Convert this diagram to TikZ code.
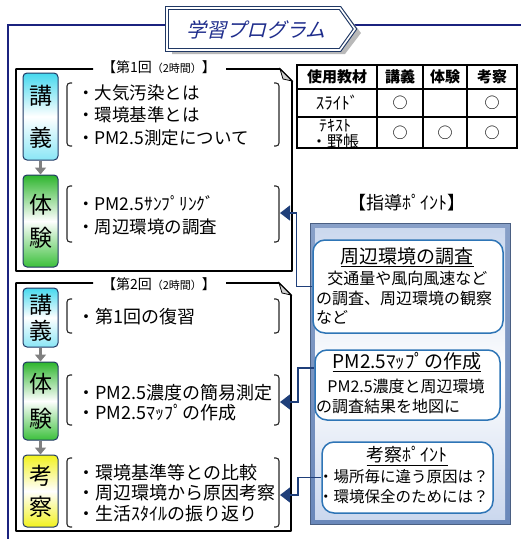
\documentclass[tikz,border=0pt]{standalone}
\usepackage{fontspec}
\setmainfont{Noto Sans CJK JP}
\newfontfamily\jpit[FakeSlant=0.25]{Noto Sans CJK JP}
\usetikzlibrary{arrows.meta,calc}
\definecolor{navy}{HTML}{1B237F}
\definecolor{ttlc}{HTML}{1F2D8C}
\definecolor{nodeb}{HTML}{203864}
\definecolor{cyanc}{HTML}{45D8EE}
\definecolor{cyanb}{HTML}{8AE6F6}
\definecolor{greenc}{HTML}{2DB52D}
\definecolor{greenb}{HTML}{3CC03C}
\definecolor{yelc}{HTML}{F2F21E}
\definecolor{ptrc}{HTML}{1F3F7A}
\definecolor{pboxc}{HTML}{2E75B6}
\definecolor{panout}{HTML}{6A88BA}
\definecolor{panin}{HTML}{CBD8EE}
\begin{document}
\begin{tikzpicture}[x=1pt,y=-1pt,
  sess/.style={draw=black, line width=1.6pt, line join=round},
  brk/.style={draw=black!85, line width=1.1pt, rounded corners=3pt},
  kou/.style={draw=nodeb, line width=1pt, rounded corners=4pt, minimum width=35pt, inner sep=0pt, align=center, font=\fontsize{23}{#1}\selectfont},
  cyanfill/.style={top color=cyanc, bottom color=cyanb, middle color=white},
  greenfill/.style={top color=greenc, bottom color=greenb, middle color=white},
  yelfill/.style={top color=yelc, bottom color=yelc, middle color=white},
  garrow/.style={draw=gray, line width=3.5pt, -{Triangle[width=11pt,length=7pt]}},
  slab/.style={inner sep=0pt, font=\fontsize{14}{14}\selectfont},
  txtA/.style={anchor=west, inner sep=0pt, align=left, font=\fontsize{17.5}{22.5}\selectfont},
  txtB/.style={anchor=west, inner sep=0pt, align=left, font=\fontsize{18}{20.5}\selectfont},
  th/.style={inner sep=0pt, font=\fontsize{15}{15}\selectfont\bfseries},
  td/.style={inner sep=0pt, align=center, font=\fontsize{15}{15}\selectfont},
  pbox/.style={draw=pboxc, line width=1.5pt, rounded corners=12pt, fill=white},
  ptitle/.style={inner sep=0pt, font=\fontsize{19}{19}\selectfont},
  pbody/.style={anchor=west, inner sep=0pt, align=left, font=\fontsize{16}{19.5}\selectfont},
  ptr/.style={draw=ptrc, line width=1.5pt, -{Triangle[width=15pt,length=10pt]}}]
\useasboundingbox (0,0) rectangle (521,539);

% outer frame
\draw[navy, line width=1.8pt] (8,539) -- (8,25) -- (521,25);

% title banner
\fill[gray!55] (172,12) -- (345,12) -- (361,33) -- (345,54) -- (172,54) -- cycle;
\filldraw[fill=white, draw=nodeb, double=white, double distance=1.6pt, line width=1.1pt, line join=miter]
  (167,8) -- (340,8) -- (355,29) -- (340,50) -- (167,50) -- cycle;
\node[inner sep=0pt, text=ttlc, font=\jpit\fontsize{20}{20}\selectfont] (ttl) at (256,30) {学習プログラム};

% ---------- session 1
\draw[sess] (93,69) -- (16,69) -- (16,271) -- (292,271) -- (292,81) -- (280,69) -- (226,69);
\filldraw[draw=black, line width=0.8pt, fill=gray!35] (280,69) -- (283,79) -- (292,81) -- cycle;
\node[slab] (s1) at (159,67) {【第1回{\fontsize{11}{11}\selectfont（2時間）}】};

\node[kou=42, minimum height=87pt, cyanfill] (k1) at (40.5,116.5) {講\\義};
\node[kou=33, minimum height=92pt, greenfill] (e1) at (40.5,221) {体\\験};
\draw[garrow] (k1.south) -- (e1.north);

\node[txtA] (t1) at (77,115) {・大気汚染とは\\・環境基準とは\\・PM2.5測定について};
\draw[brk] (72,83) -- (67,83) -- (67,146) -- (72,146);
\draw[brk] (274,83) -- (279,83) -- (279,146) -- (274,146);
\node[txtA] (t2) at (77,215.5) {・PM2.5ｻﾝﾌﾟﾘﾝｸﾞ\\・周辺環境の調査};
\draw[brk] (72,186) -- (67,186) -- (67,242) -- (72,242);
\draw[brk] (274,186) -- (279,186) -- (279,242) -- (274,242);
\coordinate (tip1) at (280,213);

% ---------- session 2
\draw[sess] (93,283) -- (16,283) -- (16,531) -- (291,531) -- (291,295) -- (279,283) -- (226,283);
\filldraw[draw=black, line width=0.8pt, fill=gray!35] (279,283) -- (282,293) -- (291,295) -- cycle;
\node[slab] (s2) at (159,284) {【第2回{\fontsize{11}{11}\selectfont（2時間）}】};

\node[kou=26, minimum height=59pt, cyanfill] (k2) at (40.5,317.5) {講\\義};
\node[kou=35, minimum height=78pt, greenfill] (e2) at (40.5,401) {体\\験};
\node[kou=31, minimum height=72pt, yelfill] (c2) at (40.5,491) {考\\察};
\draw[garrow] (k2.south) -- (e2.north);
\draw[garrow] (e2.south) -- (c2.north);

\node[txtB] (t3) at (77,317) {・第1回の復習};
\draw[brk] (72,299) -- (67,299) -- (67,333) -- (72,333);
\draw[brk] (274,299) -- (279,299) -- (279,333) -- (274,333);
\node[txtB] (t4) at (77,402.5) {・PM2.5濃度の簡易測定\\・PM2.5ﾏｯﾌﾟの作成};
\draw[brk] (72,375) -- (67,375) -- (67,425) -- (72,425);
\draw[brk] (274,375) -- (279,375) -- (279,425) -- (274,425);
\node[txtB] (t5) at (77,493) {・環境基準等との比較\\・周辺環境から原因考察\\・生活ｽﾀｲﾙの振り返り};
\draw[brk] (72,458) -- (67,458) -- (67,527) -- (72,527);
\draw[brk] (274,458) -- (279,458) -- (279,527) -- (274,527);
\coordinate (tip2) at (280,402);
\coordinate (tip3) at (280,495);

% ---------- table
\draw[line width=1.3pt] (297,89) -- (517,89) (297,117) -- (517,117)
  (377,65) -- (377,148) (423,65) -- (423,148) (467,65) -- (467,148);
\draw[line width=2pt] (297,65) rectangle (517,148);
\node[th] (h1) at (337,77) {使用教材};
\node[th] (h2) at (400,77) {講義};
\node[th] (h3) at (445,77) {体験};
\node[th] (h4) at (492,77) {考察};
\node[td, font=\fontsize{17}{17}\selectfont] (r1) at (337,103) {ｽﾗｲﾄﾞ};
\node[td] (c11) at (400,103) {○};
\node[td] (c13) at (492,103) {○};
\node[td, font=\fontsize{16}{16.5}\selectfont] (r2) at (335,134) {ﾃｷｽﾄ\\・野帳};
\node[td] (c21) at (400,133) {○};
\node[td] (c22) at (445,133) {○};
\node[td] (c23) at (492,133) {○};

% ---------- guidance panel
\node[inner sep=0pt, font=\fontsize{18}{18}\selectfont] (gp) at (407,203) {【指導ﾎﾟｲﾝﾄ】};
\shade[top color=panout!80, bottom color=panout] (310,223) rectangle (510,524);
\draw[draw=panout!70!black, line width=1pt] (310,223) rectangle (510,524);
\shade[top color=panin, bottom color=panin, middle color=white] (315,228) rectangle (505,519);

\node[pbox, minimum width=190pt, minimum height=93pt] (p1) at (408,286.5) {};
\node[ptitle] (p1t) at (407,257) {\underline{周辺環境の調査}};
\node[pbody] (p1b) at (316,298) {\hspace{0.7em}交通量や風向風速など\\の調査、周辺環境の観察\\など};

\node[pbox, minimum width=185pt, minimum height=70pt] (p2) at (407.5,385) {};
\node[ptitle] (p2t) at (407,362) {\underline{PM2.5ﾏｯﾌﾟの作成}};
\node[pbody] (p2b) at (316,396.5) {\hspace{0.7em}PM2.5濃度と周辺環境\\の調査結果を地図に};

\node[pbox, minimum width=171pt, minimum height=71pt] (p3) at (407.5,477.5) {};
\node[ptitle, font=\fontsize{18}{18}\selectfont] (p3t) at (407,456) {\underline{考察ﾎﾟｲﾝﾄ}};
\node[pbody, font=\fontsize{15.5}{20}\selectfont] (p3b) at (318,487) {・場所毎に違う原因は？\\・環境保全のためには？};

% ---------- pointers
\draw[ptr] (p1.west) -- ++(-16,0) |- (tip1);
\draw[ptr] (p2.west |- 0,368) -- (298,368) |- (tip2);
\draw[ptr] (p3.west) -- (298,477.5) |- (tip3);
\end{tikzpicture}
\end{document}
